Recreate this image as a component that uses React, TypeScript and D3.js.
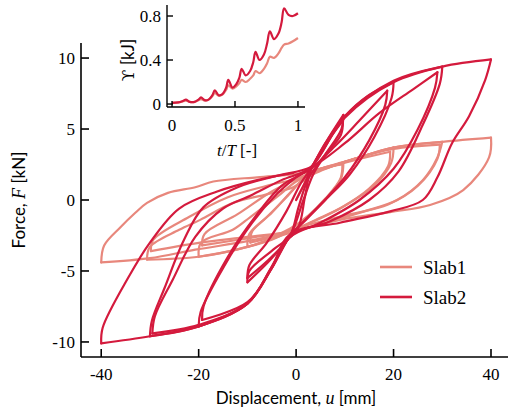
import React from 'react'
import * as d3 from 'd3'

type Pt = [number, number]

// main plot: displacement u [mm] vs force F [kN], one branch per half cycle
const slab1: Pt[][] = [
  [[0, 0], [1.5, 1.0], [3, 1.9], [6, 2.3], [9.7, 2.6]],
  [[9.7, 2.6], [9.3, 1.6], [6.5, 0.2], [3, -1.0], [-1.2, -2.1], [-5, -2.8], [-10, -3.3]],
  [[-10, -3.3], [-9.6, -2.4], [-6, -1.2], [-2, 0.2], [1.5, 1.5], [4, 2.1], [9.5, 2.5]],
  [[9.5, 2.5], [9.1, 1.5], [6, 0.1], [2.5, -1.1], [-1.2, -2.0], [-5, -2.6], [-9.4, -3.0]],
  [[-9.4, -3.0], [-9, -2.2], [-5, -0.9], [-1, 0.6], [3, 1.9], [10, 2.7], [20, 3.7]],
  [[20, 3.7], [19.5, 2.6], [16, 1.0], [10, -0.4], [4, -1.4], [-1.2, -2.2], [-10, -3.3], [-20, -4.0]],
  [[-20, -4.0], [-19.5, -3.0], [-13, -2.1], [-9.4, -1.2], [-4, 0.2], [0, 1.3], [4, 2.0], [12, 2.8], [19.3, 3.4]],
  [[19.3, 3.4], [18.9, 2.4], [15, 0.8], [9, -0.6], [3, -1.6], [-1.2, -2.2], [-10, -2.7], [-19.3, -3.2]],
  [[-19.3, -3.2], [-18.8, -2.4], [-12, -1.0], [-5, 0.6], [1, 1.6], [4, 2.0], [12, 2.9], [20, 3.7], [30, 4.1]],
  [[30, 4.1], [29, 3.0], [26, 1.4], [20.7, 0], [14, -0.8], [6, -1.6], [-1.2, -2.3], [-10, -3.3], [-20, -4.0], [-30.6, -4.2]],
  [[-30.6, -4.2], [-30, -3.3], [-24, -2.1], [-19.7, -1.4], [-12.9, -0.2], [-6, 0.4], [-0.6, 0.9], [4, 1.9], [12, 2.9], [20, 3.6], [29.5, 3.9]],
  [[29.5, 3.9], [29, 2.9], [25, 1.0], [19, -0.3], [10, -1.1], [2, -1.8], [-1.2, -2.2], [-10, -2.6], [-19.7, -3.0], [-29.8, -3.6]],
  [[-29.8, -3.6], [-29.3, -2.8], [-22, -1.2], [-14, 0.2], [-6, 1.0], [0, 1.5], [4, 2.0], [12, 2.9], [20, 3.7], [30, 4.1], [40, 4.4]],
  [[40, 4.4], [39.6, 3.0], [34.3, 0.7], [27.5, -0.35], [19.3, -0.85], [9, -1.4], [-1.2, -2.25], [-10, -2.9], [-20.7, -3.5], [-30, -4.1], [-40, -4.4]],
  [[-40, -4.4], [-39.4, -3.2], [-36, -1.9], [-33, -0.9], [-30.6, -0.2], [-26.3, 0.5], [-20.7, 0.9], [-17, 1.3], [-8, 1.6], [-0.6, 1.8], [3, 2.0]],
]

const slab2: Pt[][] = [
  [[0, 0], [1.5, 1.0], [3, 2.1], [6, 4.0], [9.7, 6.0]],
  [[9.7, 6.0], [9.3, 5.0], [6, 3.2], [3.5, 1.8], [1.5, 0], [-1.2, -2.5], [-5, -4.1], [-10, -5.8]],
  [[-10, -5.8], [-9.6, -5.0], [-4.7, -3.5], [0.2, -2.1], [1.8, 0.2], [3, 2.1], [6, 3.9], [9.6, 5.6]],
  [[9.6, 5.6], [9.2, 4.6], [5.5, 3.0], [2.5, 1.5], [0.5, -0.5], [-1.2, -2.5], [-5, -4.0], [-10, -5.5]],
  [[-10, -5.5], [-9.6, -4.6], [-6, -3.0], [-2, -0.8], [1, 1.2], [3, 2.2], [6, 4.0], [10, 5.9], [15, 7.4], [20, 8.3]],
  [[20, 8.3], [19.6, 7.2], [16, 4.4], [11, 1.8], [6, 0.0], [2, -1.4], [-1.2, -2.5], [-5, -4.7], [-10, -7.3], [-20, -8.9]],
  [[-20, -8.9], [-19.6, -7.9], [-15, -4.8], [-9, -1.6], [-4, 0.4], [0, 1.6], [3, 2.2], [8, 3.8], [13, 5.6], [18.7, 7.7]],
  [[18.7, 7.7], [18.3, 6.7], [15, 4.2], [10, 1.6], [5, -0.3], [1, -1.7], [-1.2, -2.5], [-5, -4.8], [-10, -7.2], [-19.3, -8.45]],
  [[-19.3, -8.45], [-19, -7.5], [-14, -4.0], [-8, -1.0], [-3, 1.0], [3, 2.3], [10, 5.8], [20, 8.3], [30, 9.4]],
  [[30, 9.4], [29.5, 8.2], [26, 5.3], [21, 2.0], [15, 0.0], [7, -1.5], [-1.2, -2.5], [-5, -4.8], [-10, -7.3], [-20, -8.9], [-30, -9.6]],
  [[-30, -9.6], [-29.6, -8.5], [-27, -6.2], [-23, -2.8], [-19, -0.5], [-12, 0.9], [-4, 1.7], [3, 2.3], [10, 4.0], [17, 6.1], [24, 7.8], [29, 9.0]],
  [[29, 9.0], [28.5, 7.9], [25, 5.0], [20, 2.2], [13, 0.0], [5, -1.6], [-1.2, -2.6], [-5, -4.8], [-10, -7.3], [-20, -8.8], [-29.5, -9.4]],
  [[-29.5, -9.4], [-29, -8.2], [-25.3, -5.6], [-20.7, -2.6], [-15, -0.6], [-9.4, 0.3], [-3, 1.4], [3, 2.3], [10, 5.9], [20, 8.4], [30, 9.4], [40, 9.9]],
  [[40, 9.9], [38.8, 8.45], [35.5, 5.9], [32, 4.0], [29, 1.6], [26, 0.0], [19.3, -0.8], [9, -1.6], [-1.2, -2.4], [-5, -4.7], [-10, -7.3], [-20, -8.9], [-30, -9.6], [-40, -10.1]],
  [[-40, -10.1], [-39.7, -9.0], [-34.5, -5.5], [-30, -3.0], [-24, -0.6], [-16.2, 0.6], [-8, 1.4], [-0.6, 1.9]],
]

const xTicks = [-40, -20, 0, 20, 40]
const yTicks = [-10, -5, 0, 5, 10]

// inset: energy vs normalised time
const insetT = [0, 0.05, 0.09, 0.11, 0.14, 0.18, 0.21, 0.23, 0.26, 0.29, 0.32, 0.34, 0.37, 0.40, 0.43, 0.447, 0.48, 0.51, 0.535, 0.553, 0.585, 0.62, 0.645, 0.663, 0.695, 0.73, 0.755, 0.777, 0.81, 0.845, 0.87, 0.89, 0.925, 0.96, 1.0]
const energy1 = [0.01, 0.015, 0.025, 0.03, 0.02, 0.02, 0.035, 0.045, 0.03, 0.04, 0.07, 0.10, 0.075, 0.085, 0.13, 0.17, 0.14, 0.16, 0.19, 0.22, 0.20, 0.23, 0.26, 0.30, 0.28, 0.32, 0.37, 0.43, 0.42, 0.46, 0.51, 0.54, 0.55, 0.57, 0.60]
const energy2 = [0.01, 0.015, 0.03, 0.04, 0.02, 0.02, 0.04, 0.06, 0.035, 0.04, 0.08, 0.125, 0.08, 0.09, 0.15, 0.22, 0.15, 0.18, 0.24, 0.32, 0.26, 0.30, 0.38, 0.475, 0.40, 0.45, 0.55, 0.66, 0.59, 0.64, 0.74, 0.87, 0.81, 0.80, 0.825]
const insetXTicks = [0, 0.5, 1]
const insetYTicks = [0, 0.4, 0.8]

const light = '#e8877c'
const dark = '#d41a3d'
const serif = '"Liberation Serif", "Times New Roman", serif'
const sans = 'Lato, "DejaVu Sans", sans-serif'

const App = () => {
  const x = d3.scaleLinear().domain([-44.15, 43.9]).range([81, 510])
  const y = d3.scaleLinear().domain([-11.06, 11.06]).range([357, 43])
  const line = d3.line<Pt>()
    .x((d) => x(d[0]))
    .y((d) => y(d[1]))
    .curve(d3.curveCatmullRom.alpha(0.5))

  const ix = d3.scaleLinear().domain([-0.04, 1.056]).range([167, 305])
  const iy = d3.scaleLinear().domain([-0.027, 0.9]).range([107, 5])
  const eLine = d3.line<number>()
    .x((_, i) => ix(insetT[i]))
    .y((d) => iy(d))
    .curve(d3.curveCatmullRom.alpha(0.5))

  const [x0, x1] = x.range()
  const [yb, yt] = y.range()

  return (
    <svg width={508} height={412} style={{ position: 'absolute', left: 0, top: 0, background: '#fff' }}>
      <g fill="none" strokeLinejoin="round" strokeLinecap="round">
        {slab1.map((b, i) => <path key={`l${i}`} d={line(b) || ''} stroke={light} strokeWidth={2.2} />)}
        {slab2.map((b, i) => <path key={`d${i}`} d={line(b) || ''} stroke={dark} strokeWidth={2.2} />)}
      </g>

      {/* main axes */}
      <g stroke="#000" strokeWidth={1.6}>
        <line x1={x0} x2={x0} y1={yt} y2={yb} />
        <line x1={x0} x2={x1} y1={yb} y2={yb} />
        {yTicks.map((t) => <line key={t} x1={x0} x2={x0 + 8} y1={y(t)} y2={y(t)} />)}
        {xTicks.map((t) => <line key={t} x1={x(t)} x2={x(t)} y1={yb} y2={yb - 8} />)}
      </g>
      <g fontFamily={serif} fontSize={17} fill="#000">
        {yTicks.map((t) => (
          <text key={t} x={x0 - 6} y={y(t)} dy="0.35em" textAnchor="end">{t}</text>
        ))}
        {xTicks.map((t) => (
          <text key={t} x={x(t)} y={380} textAnchor="middle">{t}</text>
        ))}
      </g>
      <text x={296} y={404} textAnchor="middle" fontFamily={sans} fontSize={17}>
        Displacement, <tspan fontFamily={serif} fontStyle="italic" fontSize={18}>u</tspan> [mm]
      </text>
      <text transform="translate(25,200) rotate(-90)" textAnchor="middle" fontFamily={sans} fontSize={17}>
        Force, <tspan fontFamily={serif} fontStyle="italic" fontSize={18}>F</tspan> [kN]
      </text>

      {/* legend */}
      <g fontFamily={serif} fontSize={19}>
        <line x1={380} x2={412} y1={267} y2={267} stroke={light} strokeWidth={2.6} />
        <text x={423} y={274}>Slab1</text>
        <line x1={380} x2={412} y1={297} y2={297} stroke={dark} strokeWidth={2.6} />
        <text x={423} y={304}>Slab2</text>
      </g>

      {/* inset */}
      <g fill="none" strokeLinejoin="round">
        <path d={eLine(energy1) || ''} stroke={light} strokeWidth={2.2} />
        <path d={eLine(energy2) || ''} stroke={dark} strokeWidth={2.2} />
      </g>
      <g stroke="#000" strokeWidth={1.4}>
        <line x1={ix.range()[0]} x2={ix.range()[0]} y1={iy.range()[1]} y2={iy.range()[0]} />
        <line x1={ix.range()[0]} x2={ix.range()[1]} y1={iy.range()[0]} y2={iy.range()[0]} />
        {insetYTicks.map((t) => <line key={t} x1={ix.range()[0]} x2={ix.range()[0] + 6} y1={iy(t)} y2={iy(t)} />)}
        {insetXTicks.map((t) => <line key={t} x1={ix(t)} x2={ix(t)} y1={iy.range()[0]} y2={iy.range()[0] - 6} />)}
      </g>
      <g fontFamily={serif} fontSize={17} fill="#000">
        {insetYTicks.map((t) => (
          <text key={t} x={ix.range()[0] - 6} y={iy(t)} dy="0.35em" textAnchor="end">{t}</text>
        ))}
        {insetXTicks.map((t) => (
          <text key={t} x={ix(t)} y={131} textAnchor="middle">{t}</text>
        ))}
        <text x={237} y={156} textAnchor="middle">
          <tspan fontStyle="italic">t</tspan>/<tspan fontStyle="italic">T</tspan> [-]
        </text>
      </g>
      <text transform="translate(134,60) rotate(-90)" textAnchor="middle" fontSize={17}>
        <tspan fontFamily='"DejaVu Serif", serif'>ϒ</tspan><tspan fontFamily={sans}> [kJ]</tspan>
      </text>
    </svg>
  )
}

export default App
